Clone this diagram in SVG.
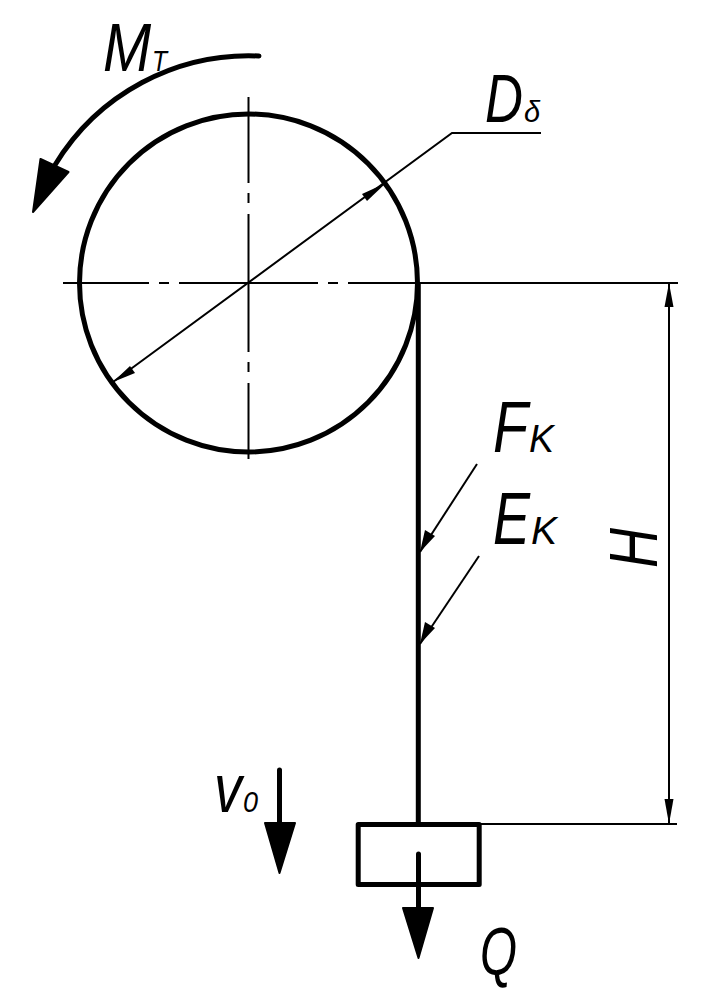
<svg xmlns="http://www.w3.org/2000/svg" width="721" height="997" viewBox="0 0 721 997">
<style>
.thick{fill:none;stroke:#000;stroke-width:5;stroke-linecap:round;stroke-linejoin:round}
.thin{fill:none;stroke:#000;stroke-width:2}
.head{fill:#000;stroke:#000;stroke-width:2;stroke-linejoin:round}
.small{fill:#000;stroke:none}
text{font-family:"Liberation Sans",Arial,sans-serif;font-style:italic;fill:#000}
.big{font-size:68px}
.sub{font-size:29px}
.subk{font-size:39px}
</style>
<rect width="721" height="997" fill="#fff"/>
<g id="centerlines">
<path class="thin" d="M63 283H149M159 283H169M179 283H318M328 283H338M348 283H678"/>
<path class="thin" d="M248.500 97V183M248.500 193V203M248.500 214V352M248.500 362V372M248.500 383V459"/>
</g>
<g id="drum"><circle class="thick" cx="248.500" cy="283" r="169"/></g>
<g id="connectors">
<path class="thin" d="M113 382L452 133H541"/>
<path class="small" d="M113 382L130 366L135 373Z"/>
<path class="small" d="M386 183L362 194L367 201Z"/>
<path class="thick" d="M259 56A227 227 0 0 0 55 165"/>
<path class="head" d="M40.500 159L68.500 172L33 212Z"/>
<path d="M418.300 283V824" fill="none" stroke="#000" stroke-width="5"/>
<path class="thin" d="M418 283H678M480 824H677"/>
<path class="thin" d="M669 283V824"/>
<path class="small" d="M669 283L673.500 307H664.500Z"/>
<path class="small" d="M669 824L664.500 799H673.500Z"/>
<path class="thin" d="M477 464L420 552"/>
<path class="small" d="M420 552L425 530L435 536Z"/>
<path class="thin" d="M479 556L420 644"/>
<path class="small" d="M420 644L425 622L435 628Z"/>
<path class="thick" d="M279.500 770V825"/>
<path class="head" d="M265 823H295L279.500 873Z"/>
<path class="thick" d="M418.500 854V910"/>
<path class="head" d="M403 908H433L418.500 958Z"/>
</g>
<g id="load"><rect class="thick" x="358.200" y="824.500" width="121" height="60"/></g>
<g id="labels">
<text class="big" transform="translate(103,71) scale(.85,1)">M</text>
<text class="sub" transform="translate(152,71) scale(.85,1)">T</text>
<text class="big" transform="translate(485,122) scale(.774,1)">D</text>
<text class="sub" transform="translate(524,122)">δ</text>
<text class="big" transform="translate(493,452) scale(.785,1)" style="font-size:73px">F</text>
<text class="subk" transform="translate(529,452) scale(.96,1)">K</text>
<text class="big" transform="translate(493,544) scale(.75,1)" style="font-size:74px">E</text>
<text class="subk" transform="translate(531,544)">K</text>
<text class="big" transform="translate(214,812) scale(.82,1)">v</text>
<text class="sub" transform="translate(243,812) scale(.93,1)">0</text>
<text class="big" transform="translate(480,975) scale(.7,1)">Q</text>
<text class="big" transform="translate(657,568) rotate(-90) scale(.815,1)">H</text>
</g>
</svg>
